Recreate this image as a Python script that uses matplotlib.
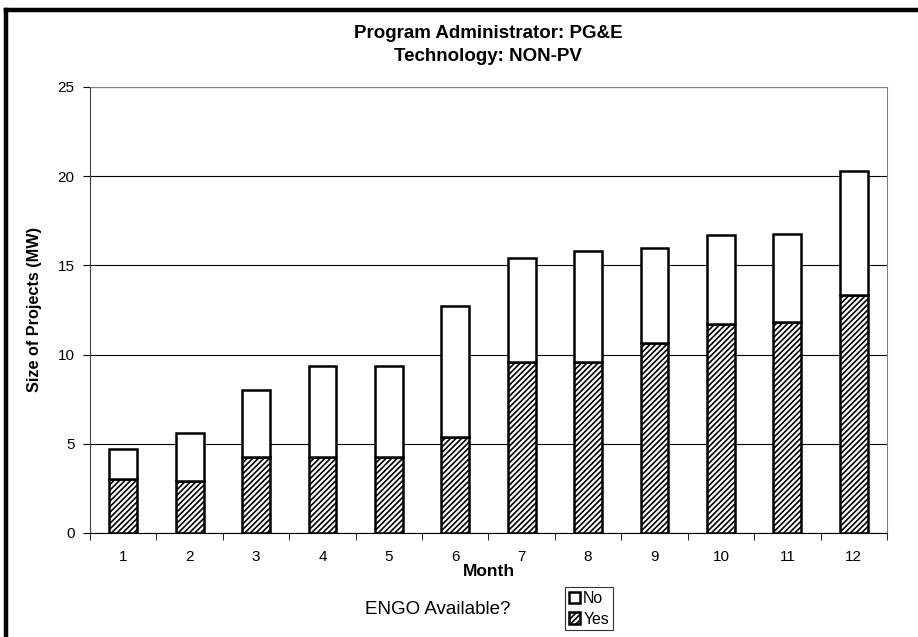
import numpy as np
import matplotlib.pyplot as plt
from matplotlib.lines import Line2D

plt.rcParams['font.family'] = ['Liberation Sans', 'DejaVu Sans']
plt.rcParams['hatch.linewidth'] = 1.2

# data
months = ['1', '2', '3', '4', '5', '6', '7', '8', '9', '10', '11', '12']
yes_mw = [3.05, 2.9, 4.25, 4.25, 4.25, 5.4, 9.6, 9.6, 10.65, 11.7, 11.8, 13.35]
total_mw = [4.7, 5.62, 8.0, 9.35, 9.35, 12.75, 15.4, 15.82, 15.95, 16.68, 16.78, 20.28]
no_mw = [t - y for t, y in zip(total_mw, yes_mw)]
yticks = [0, 5, 10, 15, 20, 25]

fig = plt.figure(figsize=(9.18, 6.37), dpi=100)
ax = fig.add_axes([90/918, 1-533/637, (887-90)/918, (533-87)/637])

x = np.arange(len(months))
ax.bar(x, yes_mw, width=0.42, color='white', edgecolor='black', hatch='//////',
       linewidth=1.8, label='Yes', zorder=3)
ax.bar(x, no_mw, width=0.42, bottom=yes_mw, color='white', edgecolor='black',
       linewidth=1.8, label='No', zorder=3)

ax.set_xlim(-0.5, len(months) - 0.5)
ax.set_ylim(0, 25)
ax.set_yticks(yticks)
ax.yaxis.grid(True, color='black', linewidth=0.8, zorder=0)
ax.set_xticks(x)
ax.set_xticklabels(months, fontsize=11)
ax.set_xticks(np.arange(len(months) + 1) - 0.5, minor=True)
ax.tick_params(axis='x', which='major', length=0, pad=12)
ax.tick_params(axis='x', which='minor', length=5, direction='out')
ax.tick_params(axis='y', length=5, direction='out', labelsize=11, pad=6)
ax.spines['top'].set_color('#808080')
ax.spines['right'].set_color('#808080')
ax.spines['left'].set_color('#404040')
ax.spines['bottom'].set_color('black')

ax.set_xlabel('Month', fontsize=12.5, fontweight='bold', labelpad=0)
ax.set_ylabel('Size of Projects (MW)', fontsize=11.7, fontweight='bold', labelpad=11)

fig.text(488/918, 1-45/637, 'Program Administrator: PG&E\nTechnology: NON-PV',
         fontsize=13.5, fontweight='bold', ha='center', va='center',
         linespacing=1.45)

fig.text(438/918, 1-610/637, 'ENGO Available?', fontsize=13.5, ha='center', va='center')

handles, labels = ax.get_legend_handles_labels()
leg = fig.legend(handles[::-1], labels[::-1], loc='upper left',
                 bbox_to_anchor=(565/918, 1-587/637), fontsize=11.4, frameon=True,
                 fancybox=False, edgecolor='black', handlelength=0.7,
                 handleheight=0.7, handletextpad=0.2, borderpad=0.25,
                 labelspacing=0.35, borderaxespad=0)
leg.get_frame().set_linewidth(0.8)

# thick outer border (top and left)
fig.add_artist(Line2D([6/918, 1], [1-10/637, 1-10/637], color='black', linewidth=3.2))
fig.add_artist(Line2D([6/918, 6/918], [0, 1-10/637], color='black', linewidth=3.2))

fig.savefig('out.png', dpi=100)
